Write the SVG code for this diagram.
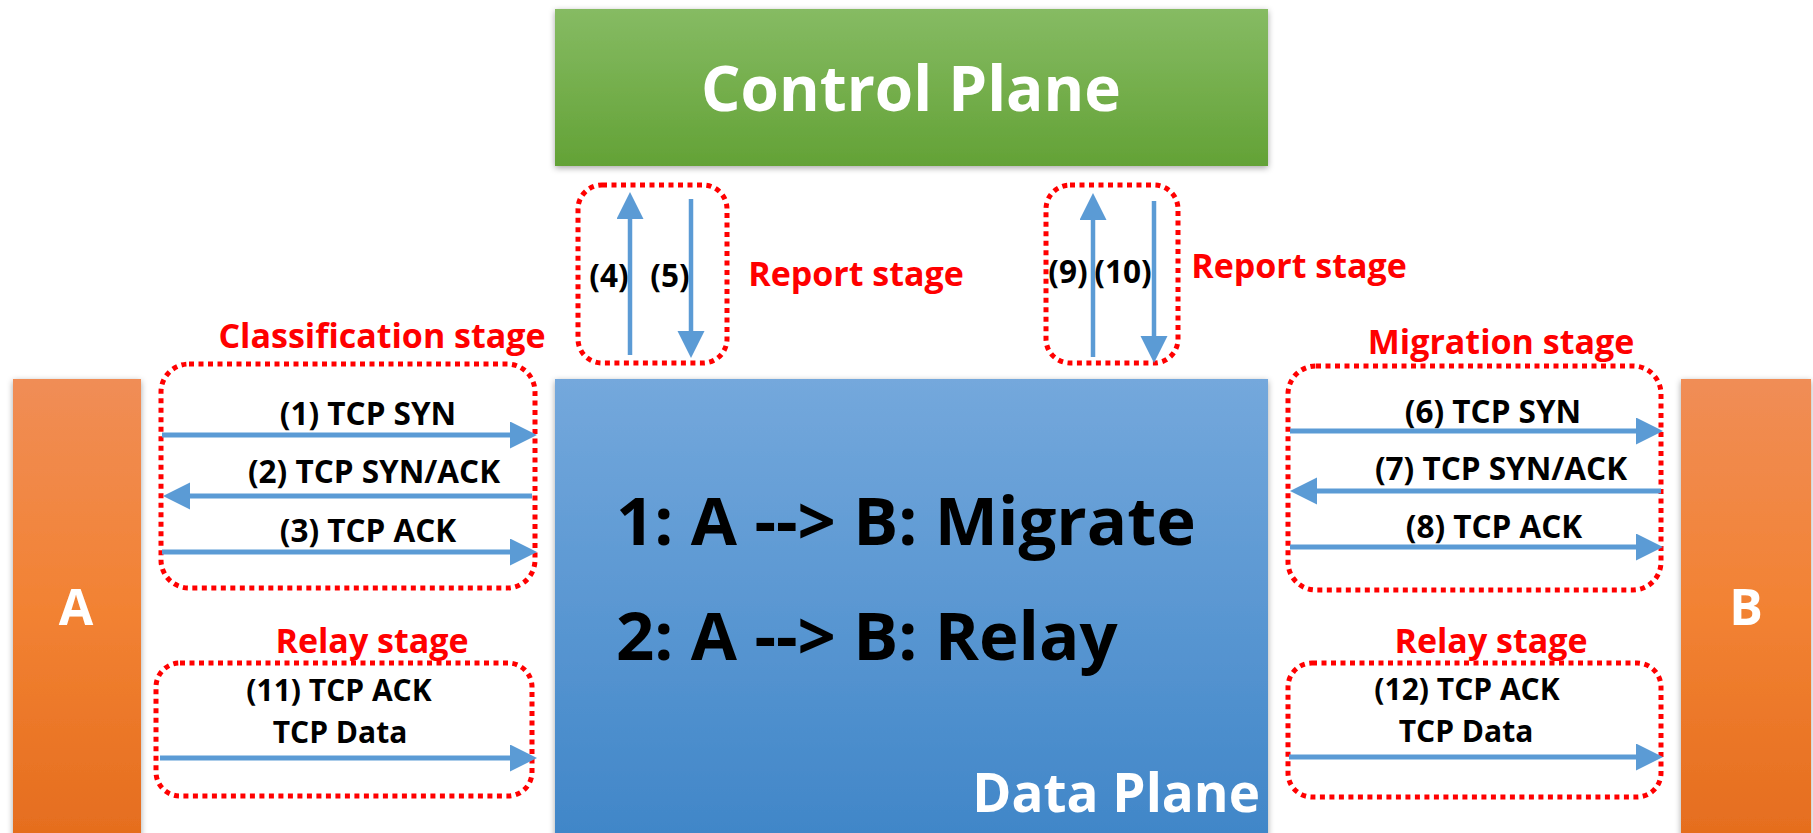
<svg xmlns="http://www.w3.org/2000/svg" width="1813" height="833" viewBox="0 0 1813 833">
<style>
.lbl{font-family:"Open Sans","Noto Sans",sans-serif;font-weight:bold;font-size:31.5px;fill:#000;text-anchor:middle}
.lbl2{font-family:"Open Sans","Noto Sans",sans-serif;font-weight:bold;font-size:30px;fill:#000;text-anchor:middle}
.red{font-family:"Open Sans","Noto Sans",sans-serif;font-weight:bold;font-size:34px;fill:#ff0000;text-anchor:middle}
.big{font-family:"Open Sans","Noto Sans",sans-serif;font-weight:bold;font-size:67px;fill:#000}
.wht{font-family:"Open Sans","Noto Sans",sans-serif;font-weight:bold;fill:#fff;text-anchor:middle}
.dot{fill:none;stroke:#ff0000;stroke-width:5;stroke-dasharray:5 4.5}
.arr{stroke:#5b9bd5;stroke-width:5;fill:none;marker-end:url(#ah)}
.varr{stroke:#5b9bd5;stroke-width:4.5;fill:none;marker-end:url(#ah)}
</style>
<defs>
<linearGradient id="gG" x1="0" y1="0" x2="0" y2="1"><stop offset="0" stop-color="#86bb63"/><stop offset="1" stop-color="#63a236"/></linearGradient>
<linearGradient id="gB" x1="0" y1="0" x2="0" y2="1"><stop offset="0" stop-color="#74a8dc"/><stop offset="1" stop-color="#4086c8"/></linearGradient>
<linearGradient id="gO" x1="0" y1="0" x2="0" y2="1"><stop offset="0" stop-color="#f08d56"/><stop offset="0.5" stop-color="#f28233"/><stop offset="1" stop-color="#e56d1e"/></linearGradient>
<filter id="sh" x="-10%" y="-10%" width="120%" height="120%"><feDropShadow dx="0" dy="2" stdDeviation="3" flood-color="#000" flood-opacity="0.35"/></filter>
<marker id="ah" markerUnits="userSpaceOnUse" markerWidth="28" markerHeight="28" refX="0" refY="13.5" orient="auto"><path d="M0,0 L27,13.5 L0,27 z" fill="#5b9bd5"/></marker>
</defs>
<rect width="1813" height="833" fill="#fff"/>

<g id="control-plane">
<rect x="555" y="9" width="713" height="157" fill="url(#gG)" filter="url(#sh)"/>
<text class="wht" x="911" y="111" font-size="62">Control Plane</text>
</g>

<g id="data-plane">
<rect x="555" y="379" width="713" height="460" fill="url(#gB)" filter="url(#sh)"/>
<text class="big" x="616" y="545">1: A --&gt; B: Migrate</text>
<text class="big" x="616" y="660">2: A --&gt; B: Relay</text>
<text class="wht" x="1260" y="812" font-size="53" style="text-anchor:end">Data Plane</text>
</g>

<g id="node-a">
<rect x="13" y="379" width="128" height="460" fill="url(#gO)" filter="url(#sh)"/>
<text class="wht" x="76" y="625" font-size="50">A</text>
</g>

<g id="node-b">
<rect x="1681" y="379" width="130" height="460" fill="url(#gO)" filter="url(#sh)"/>
<text class="wht" x="1746" y="625" font-size="50">B</text>
</g>

<g id="report-stage-1">
<rect class="dot" x="578" y="185" width="149" height="178" rx="24"/>
<text class="lbl" x="609" y="287">(4)</text>
<text class="lbl" x="670" y="287">(5)</text>
<text class="red" x="856" y="286">Report stage</text>
</g>

<g id="report-stage-2">
<rect class="dot" x="1046" y="185" width="132" height="178" rx="24"/>
<text class="lbl" x="1068" y="283">(9)</text>
<text class="lbl" x="1123" y="283">(10)</text>
<text class="red" x="1299" y="278">Report stage</text>
</g>

<g id="classification-stage">
<rect class="dot" x="161" y="364" width="374" height="224" rx="28"/>
<text class="red" x="382" y="348">Classification stage</text>
<text class="lbl" x="368" y="425">(1) TCP SYN</text>
<text class="lbl" x="374" y="483">(2) TCP SYN/ACK</text>
<text class="lbl" x="368" y="542">(3) TCP ACK</text>
</g>

<g id="migration-stage">
<rect class="dot" x="1288" y="366" width="373" height="224" rx="28"/>
<text class="red" x="1501" y="354">Migration stage</text>
<text class="lbl" x="1493" y="423">(6) TCP SYN</text>
<text class="lbl" x="1501" y="480">(7) TCP SYN/ACK</text>
<text class="lbl" x="1494" y="538">(8) TCP ACK</text>
</g>

<g id="relay-stage-a">
<rect class="dot" x="156" y="663" width="376" height="133" rx="24"/>
<text class="red" x="372" y="653">Relay stage</text>
<text class="lbl2" x="339" y="701">(11) TCP ACK</text>
<text class="lbl2" x="340" y="743">TCP Data</text>
</g>

<g id="relay-stage-b">
<rect class="dot" x="1288" y="663" width="373" height="134" rx="24"/>
<text class="red" x="1491" y="653">Relay stage</text>
<text class="lbl2" x="1467" y="700">(12) TCP ACK</text>
<text class="lbl2" x="1466" y="742">TCP Data</text>
</g>

<g id="connectors">
<line class="arr" x1="162" y1="435" x2="510" y2="435"/>
<line class="arr" x1="532" y1="496" x2="190" y2="496"/>
<line class="arr" x1="162" y1="552" x2="510" y2="552"/>
<line class="arr" x1="160" y1="758" x2="510" y2="758"/>
<line class="arr" x1="1290" y1="431" x2="1636" y2="431"/>
<line class="arr" x1="1661" y1="491" x2="1317" y2="491"/>
<line class="arr" x1="1290" y1="547" x2="1636" y2="547"/>
<line class="arr" x1="1289" y1="757" x2="1636" y2="757"/>
<line class="varr" x1="630" y1="355" x2="630" y2="219"/>
<line class="varr" x1="691" y1="199" x2="691" y2="331"/>
<line class="varr" x1="1093" y1="357" x2="1093" y2="220"/>
<line class="varr" x1="1154" y1="201" x2="1154" y2="336"/>
</g>
</svg>
